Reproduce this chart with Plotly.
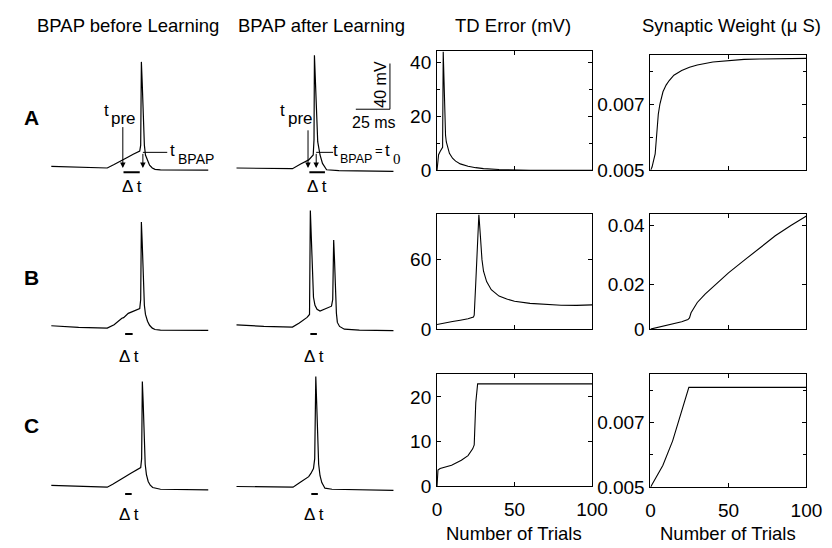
import plotly.graph_objects as go

W, H = 832, 548
FONT = "Liberation Sans, Arial, Helvetica, sans-serif"

# ---------------- data ----------------
# Membrane potential traces: time (ms) and voltage (mV)
tA_before = [0, 20, 41, 46, 51.7, 56, 60, 64.8, 65.5, 66, 66.6, 67.3, 68.2, 69, 70.5, 72, 74, 76, 80, 115]
vA_before = [-63.6, -64.5, -65, -62, -57.9, -55.5, -53, -50.2, -45, 27.8, 10, -20, -45, -53.6, -59, -62.5, -65, -66.2, -66.6, -66.8]
tA_after = [0, 20, 41, 47, 52.9, 56.2, 56.8, 57.1, 57.7, 58.5, 59.5, 61.2, 63, 66, 75, 115]
vA_after = [-65, -65.2, -65.6, -61.5, -57.9, -53.6, -40, 33.5, 10, -20, -42, -53.6, -61, -66.5, -67.2, -67.9]

tB_before = [0, 20, 41, 46, 51.7, 53, 56.4, 60, 64.8, 65.5, 66, 66.6, 67.3, 68.2, 69, 70.5, 72, 74, 76, 80, 115]
vB_before = [-62.9, -64.3, -65, -62, -56.4, -55.8, -52.1, -50, -47.9, -40, 27.9, 10, -20, -45, -53, -59, -62.5, -65, -66.2, -66.8, -67]
tB_after = [0, 20, 41, 46, 51.7, 53.5, 54.1, 54.8, 55.6, 56.4, 57.5, 59, 61.2, 65, 69.6, 70.5, 71.2, 71.8, 72.5, 73.2, 73.9, 75.5, 79, 90, 115]
vB_after = [-62.1, -63.5, -64.1, -60.5, -55.6, -53, 37.8, 10, -25, -38, -45, -48.5, -50.1, -48, -45.8, -40, 12.1, -5, -35, -52, -60, -63.5, -65.9, -66.8, -67.2]

tC_before = [0, 20, 41, 45, 50.5, 52, 54.1, 58, 62, 65.5, 66.2, 66.7, 67.3, 68, 68.8, 69.7, 71, 72.5, 74.3, 80, 115]
vC_before = [-63.5, -64.3, -65, -62.5, -58.7, -58, -55.8, -53, -50.5, -47.9, -40, 27.5, 10, -20, -45, -54, -60, -63.3, -65.3, -66.8, -67.3]
tC_after = [0, 20, 41.4, 47, 52.9, 54.5, 56.4, 57.3, 58.1, 58.7, 59.4, 60.2, 61.2, 62.5, 64.8, 70, 115]
vC_after = [-64.4, -64.8, -65, -60.5, -55.8, -53, -48.7, -40, 31.8, 10, -20, -45, -55, -61, -65.9, -66.8, -67.8]

# event times (ms): presynaptic input, BPAP, and delta-t bars [before, after]
t_pre_A = [52.4, 52.4]
t_bpap_A = [67.1, 58.4]
dt_start = {"A": [52.9, 53.4], "B": [54.1, 54.1], "C": [54.1, 54.8]}
dt_end = {"A": [64.8, 64.8], "B": [59.6, 58.9], "C": [58.9, 59.6]}
scale_ms = 25
scale_mV = 40

# TD error (mV) vs trial
trials_tdA = [0, 0.3, 1, 2, 3, 3.6, 4.0, 4.5, 5, 5.5, 6, 7, 8, 10, 12, 15, 20, 25, 30, 40, 50, 60, 100]
td_A = [0, 3, 5.8, 7, 7.8, 8.5, 44, 30, 18, 13, 10.5, 8, 6.3, 4.5, 3.4, 2.4, 1.5, 1.0, 0.65, 0.3, 0.1, 0.03, 0]
trials_tdB = [0, 5, 10, 15, 20, 23.5, 24, 25, 26, 27, 28, 29, 30, 32, 35, 40, 45, 50, 60, 70, 80, 90, 100]
td_B = [4, 5, 6.6, 7.7, 8.9, 10.5, 12, 40, 75, 99, 80, 60, 50, 41, 34, 28.5, 26, 24, 22.2, 21.2, 20.6, 20.5, 20.9]
trials_tdC = [0, 0.6, 2, 9.4, 15.7, 20, 23, 24, 25, 26.2, 100]
td_C = [0, 3.65, 4.0, 4.75, 5.85, 6.9, 8.4, 9.3, 18.7, 22.9, 22.9]

# Synaptic weight (uS) vs trial
trials_wA = [0, 1, 2, 3, 3.5, 4, 5, 6, 8, 10, 12, 15, 20, 25, 30, 40, 50, 60, 70, 80, 100]
w_A = [0.005, 0.0051, 0.0053, 0.0055, 0.0058, 0.0062, 0.0067, 0.0070, 0.00738, 0.00758, 0.00772, 0.00788,
       0.00802, 0.00812, 0.00819, 0.00828, 0.00833, 0.00836, 0.00837, 0.00838, 0.00839]
trials_wB = [0, 10, 20, 24, 25, 26, 28, 30, 35, 40, 50, 60, 70, 80, 90, 100]
w_B = [0.005, 0.0062, 0.0075, 0.0082, 0.0088, 0.0105, 0.0125, 0.0140, 0.0168, 0.0193, 0.0240, 0.0282,
       0.0325, 0.0365, 0.0400, 0.0432]
trials_wC = [0, 7.9, 14.2, 20.4, 24.6, 100]
w_C = [0.005, 0.00567, 0.00643, 0.00739, 0.00808, 0.00808]

col_titles = ["BPAP before Learning", "BPAP after Learning", "TD Error (mV)", "Synaptic Weight (\u03bc S)"]
row_labels = ["A", "B", "C"]
trial_ticks = [0, 50, 100]
td_ticks = {"A": [0, 20, 40], "B": [0, 60], "C": [0, 10, 20]}
td_minor = {"A": [10, 30], "B": [], "C": []}
w_ticks = {"A": [0.005, 0.007], "B": [0.005, 0.02, 0.04], "C": [0.005, 0.007]}
w_ticktext = {"A": ["0.005", "0.007"], "B": ["0", "0.02", "0.04"], "C": ["0.005", "0.007"]}
w_minor = {"A": [0.006, 0.008], "B": [], "C": [0.006, 0.008]}
td_range = {"A": [0, 44], "B": [0, 99], "C": [0, 25]}
w_range = {"A": [0.005, 0.0085], "B": [0.005, 0.0437], "C": [0.005, 0.0085]}

# ---------------- layout geometry (pixels) ----------------
def fx(px):
    return px / W

def fy(py):
    return 1 - py / H

PX_PER_MS = 1.4
PX_PER_MV = 1.167
V_REST = -65
col_origin = [39.3, 229.3]           # pixel x of t=0 for trace columns
col_dom = [[37, 215], [227, 395]]
row_base = {"A": 163.3, "B": 326.7, "C": 489}
row_dom = {"A": [40, 175], "B": [195, 340], "C": [365, 500]}
td_dom_x = [435, 594]
w_dom_x = [654, 814]
td_dom_y = {"A": [44.3, 165.7], "B": [210.7, 327.7], "C": [374, 488.3]}
w_dom_y = {"A": [47.7, 165.7], "B": [210.7, 327.7], "C": [373.3, 489]}

traces_data = {
    "A": [(tA_before, vA_before), (tA_after, vA_after)],
    "B": [(tB_before, vB_before), (tB_after, vB_after)],
    "C": [(tC_before, vC_before), (tC_after, vC_after)],
}
td_data = {"A": (trials_tdA, td_A), "B": (trials_tdB, td_B), "C": (trials_tdC, td_C)}
w_data = {"A": (trials_wA, w_A), "B": (trials_wB, w_B), "C": (trials_wC, w_C)}

fig = go.Figure()
layout = dict(width=W, height=H, margin=dict(l=0, r=0, t=0, b=0),
              paper_bgcolor="white", plot_bgcolor="white", showlegend=False,
              font=dict(family=FONT, color="black", size=18))
annotations = []

def axnames(idx):
    return ("xaxis" if idx == 1 else f"xaxis{idx}", "yaxis" if idx == 1 else f"yaxis{idx}",
            "x" if idx == 1 else f"x{idx}", "y" if idx == 1 else f"y{idx}")

LINE = dict(color="black", width=1.1)

for r, row in enumerate(row_labels):
    # voltage trace panels
    for c in range(2):
        idx = r * 4 + c + 1
        xa, ya, xr, yr = axnames(idx)
        x0, x1 = col_dom[c]
        y0, y1 = row_dom[row]
        xrange = [(x0 - col_origin[c]) / PX_PER_MS, (x1 - col_origin[c]) / PX_PER_MS]
        yrange = [V_REST - (y1 - row_base[row]) / PX_PER_MV, V_REST + (row_base[row] - y0) / PX_PER_MV]
        layout[xa] = dict(domain=[fx(x0), fx(x1)], range=xrange, visible=False, fixedrange=True)
        layout[ya] = dict(domain=[fy(y1), fy(y0)], range=yrange, visible=False, fixedrange=True)
        t, v = traces_data[row][c]
        fig.add_trace(go.Scatter(x=t, y=v, mode="lines", line=dict(color="black", width=1.2),
                                 xaxis=xr, yaxis=yr, hoverinfo="skip"))
        # delta-t bar
        bar_v = V_REST - {"A": 4.4, "B": 6.0, "C": 7.0}[row] / PX_PER_MV
        fig.add_trace(go.Scatter(x=[dt_start[row][c], dt_end[row][c]], y=[bar_v, bar_v], mode="lines",
                                 line=dict(color="black", width=2), xaxis=xr, yaxis=yr, hoverinfo="skip"))
        if row == "A":
            # t_pre arrow
            top_v = V_REST + (row_base[row] - (120 if c == 0 else 123.3)) / PX_PER_MV
            annotations.append(dict(x=t_pre_A[c], y=V_REST, ax=t_pre_A[c], ay=top_v, xref=xr, yref=yr,
                                    axref=xr, ayref=yr, showarrow=True, arrowhead=2, arrowsize=1.1,
                                    arrowwidth=1, arrowcolor="black", text=""))
            # t_BPAP arrow with horizontal leader
            lead_v = V_REST + (row_base[row] - 147.3) / PX_PER_MV
            lead_end = t_bpap_A[c] + (25 if c == 0 else 17.3) / PX_PER_MS
            fig.add_trace(go.Scatter(x=[lead_end, t_bpap_A[c]], y=[lead_v, lead_v], mode="lines",
                                     line=dict(color="black", width=1), xaxis=xr, yaxis=yr, hoverinfo="skip"))
            annotations.append(dict(x=t_bpap_A[c], y=V_REST, ax=t_bpap_A[c], ay=lead_v, xref=xr, yref=yr,
                                    axref=xr, ayref=yr, showarrow=True, arrowhead=2, arrowsize=1.1,
                                    arrowwidth=1, arrowcolor="black", text=""))
            if c == 1:
                # scale bar
                sx = (386.7 - col_origin[1]) / PX_PER_MS
                sv = V_REST + (row_base[row] - 103.3) / PX_PER_MV
                fig.add_trace(go.Scatter(x=[sx - scale_ms, sx, sx], y=[sv, sv, sv + scale_mV], mode="lines",
                                         line=dict(color="black", width=1), xaxis=xr, yaxis=yr,
                                         hoverinfo="skip"))

    # TD error panel and weight panel
    for c, (dom_x, dom_y, data, rng, tv, tt, mv) in enumerate([
        (td_dom_x, td_dom_y, td_data, td_range, td_ticks, None, td_minor),
        (w_dom_x, w_dom_y, w_data, w_range, w_ticks, w_ticktext, w_minor),
    ]):
        idx = r * 4 + c + 3
        xa, ya, xr, yr = axnames(idx)
        y0, y1 = dom_y[row]
        common = dict(showline=True, linecolor="black", linewidth=1, mirror="allticks", ticks="inside",
                      ticklen=4, tickcolor="black", tickwidth=1, showgrid=False, zeroline=False,
                      fixedrange=True, tickfont=dict(size=19, family=FONT))
        layout[xa] = dict(domain=[fx(dom_x[0]), fx(dom_x[1])], range=[0, 100], tickvals=trial_ticks,
                          showticklabels=(row == "C"), anchor=yr, ticklabelstandoff=6, **common)
        ydict = dict(domain=[fy(y1), fy(y0)], range=rng[row], tickvals=tv[row], anchor=xr,
                     ticklabelstandoff=1, **common)
        if tt is not None:
            ydict["ticktext"] = tt[row]
        if mv[row]:
            ydict["minor"] = dict(tickvals=mv[row], ticks="inside", ticklen=3, tickcolor="black")
        layout[ya] = ydict
        xs, ys = data[row]
        fig.add_trace(go.Scatter(x=xs, y=ys, mode="lines", line=LINE, xaxis=xr, yaxis=yr,
                                 hoverinfo="skip", cliponaxis=True))

def txt(text, x, y, size=18, family=FONT, **kw):
    d = dict(text=text, x=fx(x), y=fy(y), xref="paper", yref="paper", showarrow=False,
             xanchor="center", yanchor="middle", borderpad=0,
             font=dict(size=size, family=family, color="black"))
    d.update(kw)
    annotations.append(d)

# column titles
for title, cx in zip(col_titles, [118, 316, 513, 737.5]):
    txt(title, cx, 18, size=18.5)
# row labels
for lab, cy in zip(row_labels, [112, 275, 426]):
    txt("<b>" + lab + "</b>", 19, cy, size=21)
# x axis titles
txt("Number of Trials", 514, 536, size=18.5)
txt("Number of Trials", 734, 536, size=18.5)
# delta t labels
for cx, cy in [(121.7, 181.7), (311.7, 181.7), (119, 355.7), (309, 355.7), (119, 516.7), (309, 516.7)]:
    txt("\u0394\u2009t", cx, cy, size=17)
# t_pre / t_BPAP labels
txt("t", 96.3, 105, size=17)
txt("pre", 100, 113, size=17, xanchor="left")
txt("t", 276.5, 105, size=17)
txt("pre", 281, 113, size=17, xanchor="left")
txt("t", 164, 145, size=17)
txt("BPAP", 168, 154, size=14, xanchor="left")
txt("t", 331, 145, size=17)
txt("BPAP", 334, 154, size=12.5, xanchor="left")
txt("=", 375.5, 145, size=13)
txt("t", 384.5, 145, size=17)
txt("0", 388.5, 154, size=15, family="Liberation Serif, Times New Roman, serif", xanchor="left")
# scale bar labels
txt("40 mV", 376.7, 78, size=16, textangle=-90)
txt("25 ms", 370, 117, size=16)

layout["annotations"] = annotations
fig.update_layout(**layout)
fig.write_html("out.html")
